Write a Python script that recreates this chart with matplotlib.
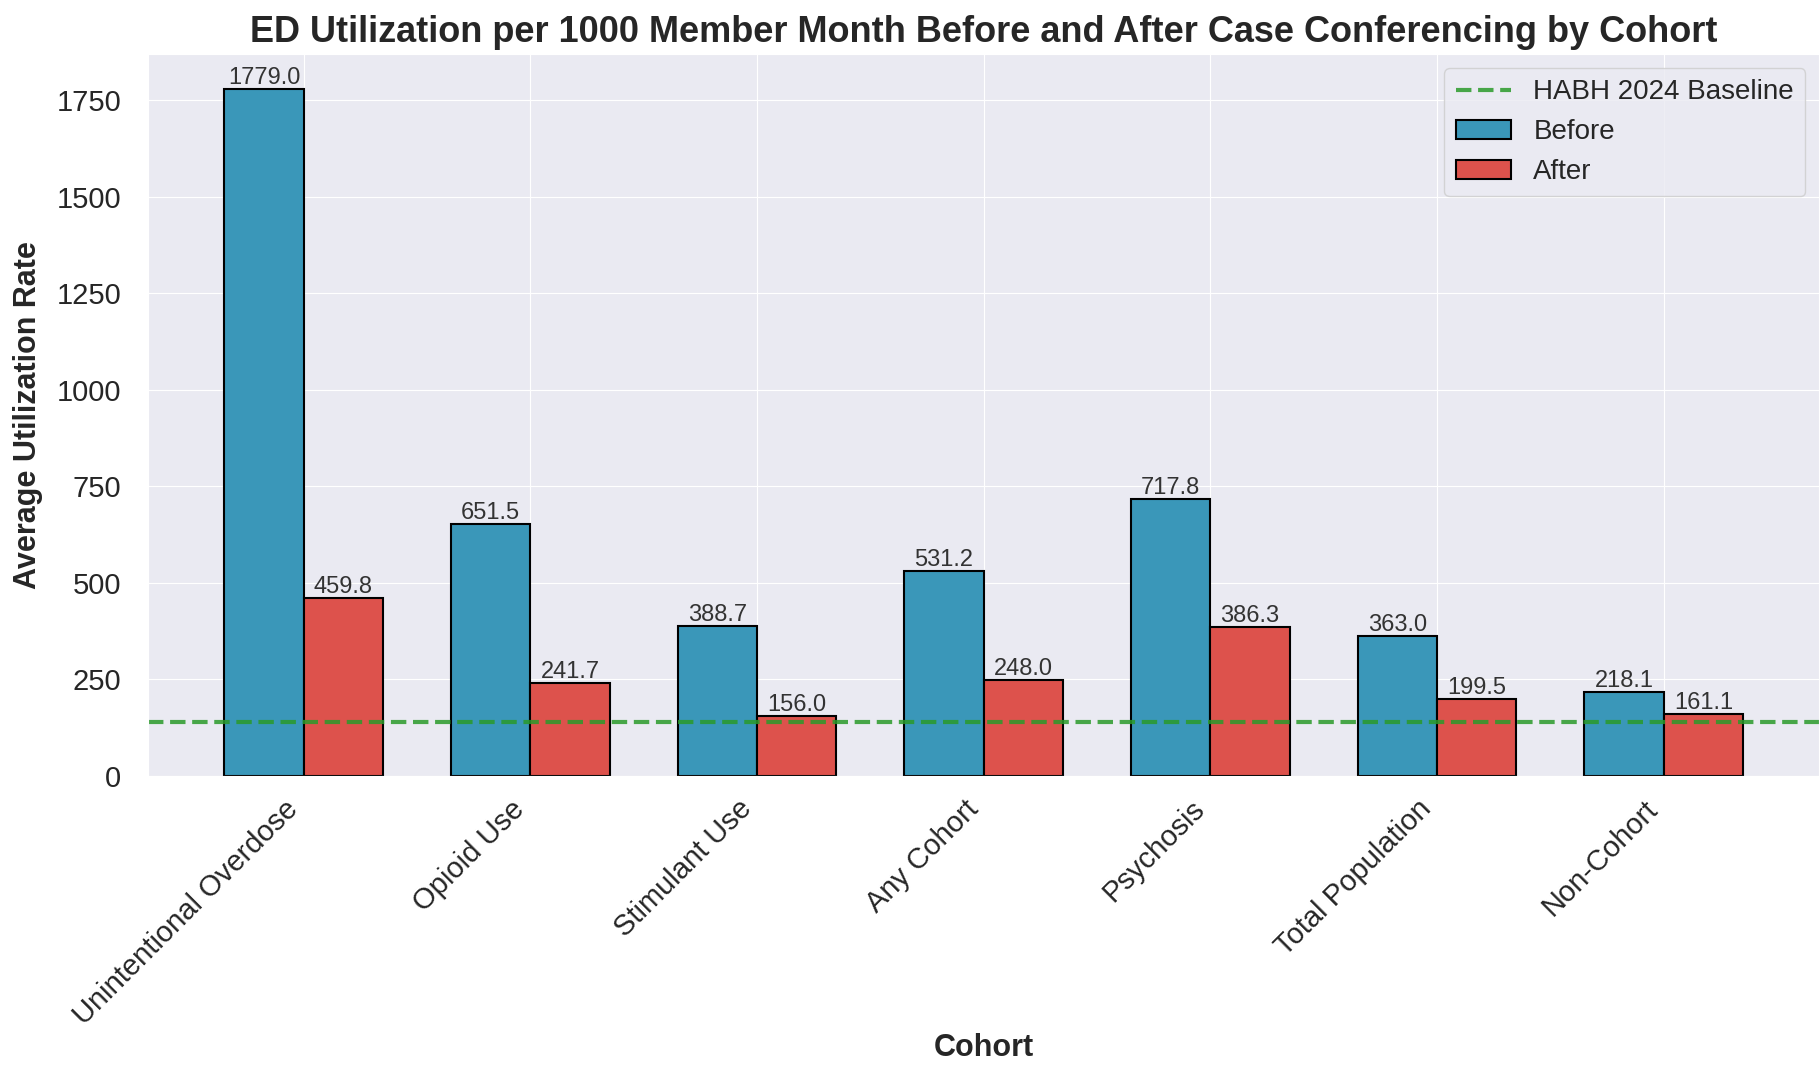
import matplotlib.pyplot as plt
import numpy as np
import seaborn as sns

cohorts = ["Unintentional Overdose", "Opioid Use", "Stimulant Use", "Any Cohort",
           "Psychosis", "Total Population", "Non-Cohort"]
before = [1779.0, 651.5, 388.7, 531.2, 717.8, 363.0, 218.1]
after = [459.8, 241.7, 156.0, 248.0, 386.3, 199.5, 161.1]
baseline = 140

sns.set_style("darkgrid")
plt.rcParams['font.family'] = ['Liberation Sans', 'DejaVu Sans']

fig = plt.figure(figsize=(18.19, 10.66), dpi=100)
ax = fig.add_axes([0.0816, 0.272, 0.9184, 0.677])

x = np.arange(len(cohorts))
w = 0.35
b1 = ax.bar(x - w/2, before, w, color='#3a97b9', edgecolor='black', linewidth=1.5, label='Before')
b2 = ax.bar(x + w/2, after, w, color='#dd524c', edgecolor='black', linewidth=1.5, label='After')
ax.axhline(baseline, color='#2a9a2a', linestyle='--', linewidth=3, alpha=0.85,
           label='HABH 2024 Baseline')

for bars in (b1, b2):
    for bar in bars:
        h = bar.get_height()
        ax.text(bar.get_x() + bar.get_width()/2, h, f"{h:.1f}", ha='center', va='bottom',
                fontsize=17, color='#333333')

ax.set_xticks(x)
ax.set_xticklabels(cohorts, rotation=45, ha='right', fontsize=21)
ax.tick_params(axis='y', labelsize=21, pad=16)
ax.tick_params(axis='x', pad=10)
ax.set_xlabel("Cohort", fontsize=22, fontweight='bold', labelpad=2)
ax.set_ylabel("Average Utilization Rate", fontsize=22, fontweight='bold', labelpad=10)
ax.set_title("ED Utilization per 1000 Member Month Before and After Case Conferencing by Cohort",
             fontsize=26, fontweight='bold', pad=9)
ax.legend(loc='upper right', fontsize=20)

fig.savefig("out.png", dpi=100)
